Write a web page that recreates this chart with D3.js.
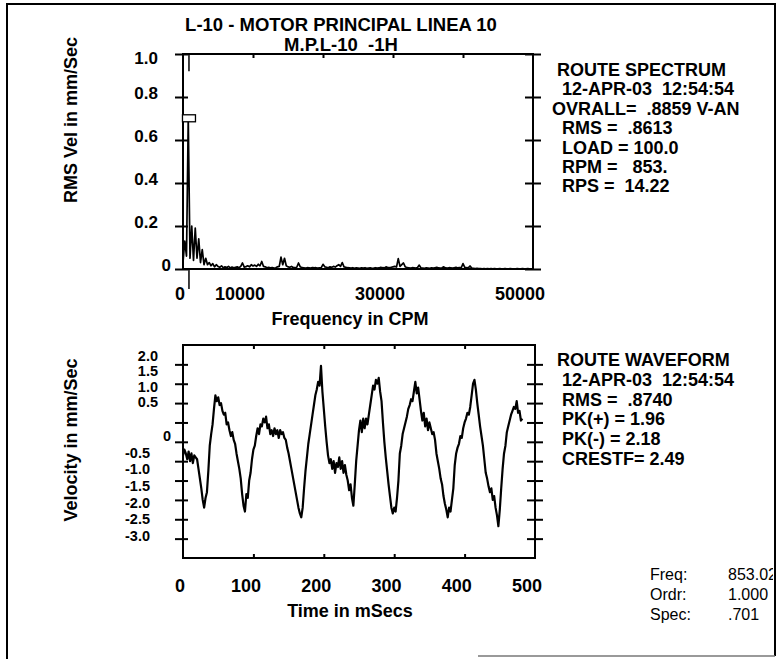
<!DOCTYPE html>
<html>
<head>
<meta charset="utf-8">
<script src="https://cdn.jsdelivr.net/npm/d3@7"></script>
<style>
  html, body { margin: 0; padding: 0; background: #fff; }
  svg { display: block; }
  text { font-family: "Liberation Sans", Arial, sans-serif; fill: #000; white-space: pre; }
  .b { font-weight: bold; }
</style>
</head>
<body>
<svg id="chart" width="779" height="659" xml:space="preserve"></svg>
<script>
// ---- header and report text ----
const titleLines = ["L-10 - MOTOR PRINCIPAL LINEA 10", "M.P.L-10  -1H"];
const spectrumInfo = [
  " ROUTE SPECTRUM",
  "  12-APR-03  12:54:54",
  "OVRALL=  .8859 V-AN",
  "  RMS =  .8613",
  "  LOAD = 100.0",
  "  RPM =   853.",
  "  RPS =  14.22"
];
const waveformInfo = [
  " ROUTE WAVEFORM",
  "  12-APR-03  12:54:54",
  "  RMS =  .8740",
  "  PK(+) = 1.96",
  "  PK(-) = 2.18",
  "  CRESTF= 2.49"
];
const cursorNames = ["Freq:", "Ordr:", "Spec:"];
const cursorValues = ["853.02", "1.000", ".701"];

// ---- spectrum (RMS velocity, mm/Sec) ----
const specStep = 250;            // CPM between spectral lines
const specAmp = [
  0.03, 0.13, 0.06, 0.701, 0.05, 0.20, 0.04, 0.19, 0.05, 0.14,
  0.03, 0.09, 0.02, 0.05, 0.02, 0.03, 0.015, 0.025, 0.01, 0.02,
  0.012, 0.008, 0.015, 0.006, 0.01, 0.007, 0.012, 0.005, 0.009, 0.006,
  0.008, 0.01, 0.006, 0.012, 0.028, 0.009, 0.011, 0.015, 0.01, 0.02,
  0.014, 0.018, 0.012, 0.022, 0.015, 0.035, 0.012, 0.01, 0.006, 0.008,
  0.005, 0.007, 0.004, 0.006, 0.01, 0.012, 0.055, 0.02, 0.05, 0.015,
  0.01, 0.008, 0.012, 0.007, 0.006, 0.008, 0.028, 0.01, 0.006, 0.005,
  0.004, 0.006, 0.005, 0.004, 0.007, 0.005, 0.006, 0.004, 0.005, 0.006,
  0.022, 0.01, 0.008, 0.006, 0.01, 0.008, 0.012, 0.009, 0.015, 0.02,
  0.012, 0.03, 0.01, 0.008, 0.006, 0.005, 0.004, 0.006, 0.003, 0.005,
  0.004, 0.003, 0.005, 0.004, 0.006, 0.003, 0.004, 0.005, 0.003, 0.004,
  0.006, 0.004, 0.005, 0.008, 0.006, 0.005, 0.01, 0.007, 0.006, 0.008,
  0.01, 0.012, 0.009, 0.048, 0.012, 0.02, 0.028, 0.01, 0.006, 0.005,
  0.004, 0.006, 0.005, 0.004, 0.007, 0.018, 0.005, 0.004, 0.003, 0.005,
  0.004, 0.003, 0.005, 0.004, 0.006, 0.008, 0.005, 0.004, 0.006, 0.01,
  0.005, 0.004, 0.006, 0.005, 0.004, 0.006, 0.008, 0.005, 0.007, 0.006,
  0.025, 0.008, 0.006, 0.005, 0.014, 0.004, 0.003, 0.002, 0.003, 0.002,
  0.002, 0.001, 0.002, 0.001, 0.002, 0.001, 0.002, 0.001, 0.002, 0.001,
  0.001, 0.002, 0.001, 0.001, 0.002, 0.001, 0.001, 0.002, 0.001, 0.001,
  0.001, 0.002, 0.001, 0.001, 0.002, 0.001, 0.001, 0.002, 0.001, 0.001,
  0.001
];
const specYTicks = [0, 0.2, 0.4, 0.6, 0.8, 1.0];
const specYLabels = ["0", "0.2", "0.4", "0.6", "0.8", "1.0"];
const specXTicks = [10000, 20000, 30000, 40000];
const specXLabels = [0, 10000, 30000, 50000];
const cursorCPM = 853.02;
const cursorAmp = 0.701;

// ---- waveform (velocity, mm/Sec) ----
const waveStep = 2;              // ms between samples
const waveVel = [
  -0.35, -0.2, -0.3, -0.45, -0.25, -0.5, -0.3, -0.55, -0.35, -0.4,
  -0.45, -0.7, -0.95, -1.2, -1.5, -1.7, -1.45, -1.3, -0.75, -0.1,
  0.2, 0.45, 0.85, 1.2, 1.05, 1.15, 0.95, 1.0, 0.8, 0.7,
  0.75, 0.45, 0.5, 0.3, 0.15, 0.25, 0.05, -0.05, -0.3, -0.5,
  -0.7, -0.95, -1.35, -1.65, -1.8, -1.35, -1.45, -1.0, -0.8, -0.45,
  -0.2, -0.1, 0.15, 0.35, 0.2, 0.45, 0.4, 0.6, 0.5, 0.65,
  0.35, 0.45, 0.2, 0.3, 0.15, 0.35, 0.2, 0.3, 0.1, 0.3,
  0.2, 0.25, 0.1, 0.05, -0.15, -0.3, -0.5, -0.7, -0.9, -1.1,
  -1.3, -1.5, -1.7, -1.85, -1.95, -1.7, -1.2, -0.75, -0.4, -0.05,
  0.2, 0.45, 0.7, 0.95, 1.2, 1.35, 1.55, 1.45, 1.96, 1.3,
  0.85, 0.4, 0.0, -0.35, -0.55, -0.45, -0.7, -0.5, -0.8, -0.55,
  -0.65, -0.4, -0.7, -0.5, -0.8, -0.6, -0.85, -1.0, -1.25, -1.1,
  -1.45, -1.65, -1.1, -0.5, -0.1, 0.3, 0.55, 0.25, 0.6, 0.35,
  0.6, 0.45, 0.7, 0.95, 1.2, 1.45, 1.35, 1.6, 1.5, 1.65,
  1.3, 1.05, 0.5, 0.0, -0.4, -0.75, -1.1, -1.4, -1.7, -1.85,
  -1.7, -1.8, -1.45, -1.0, -0.3, -0.1, 0.2, 0.35, 0.5, 0.65,
  0.85, 0.95, 1.1, 1.05, 1.3, 1.55, 1.25, 1.4, 1.1, 0.8,
  0.55, 0.75, 0.4, 0.6, 0.3, 0.5, 0.35, 0.2, 0.25, 0.05,
  -0.3, -0.5, -0.7, -0.95, -1.1, -1.4, -1.6, -1.75, -1.95, -1.7,
  -1.8, -1.5, -1.2, -0.6, -0.3, -0.15, -0.05, 0.15, 0.1, 0.35,
  0.5, 0.6, 0.75, 0.7, 0.9, 1.2, 1.5, 1.6, 1.35, 1.0,
  0.7, 0.4, 0.15, -0.1, -0.45, -0.8, -0.95, -1.15, -1.3, -1.2,
  -1.5, -1.4, -1.7, -1.9, -2.18, -1.75, -1.2, -0.7, -0.3, -0.1,
  0.25, 0.4, 0.55, 0.7, 0.8, 0.9, 0.85, 1.05, 0.75, 0.8,
  0.55, 0.6
];
const waveYTicks = [2.0, 1.5, 1.0, 0.5, 0, -0.5, -1.0, -1.5, -2.0, -2.5];
const waveYLabelVals = [2.0, 1.5, 1.0, 0.5, 0, -0.5, -1.0, -1.5, -2.0, -2.5, -3.0];
const waveYLabels = ["2.0", "1.5", "1.0", "0.5", "0", "-0.5", "-1.0", "-1.5", "-2.0", "-2.5", "-3.0"];
const waveXTicks = [100, 200, 300, 400];
const waveXLabels = [0, 100, 200, 300, 400, 500];

// ---------------------------------------------------------------
const svg = d3.select("#chart");

// page border (bottom edge only partly printed)
svg.append("path").attr("d", "M7,659V4H775V656")
  .attr("fill", "none").attr("stroke", "#000").attr("stroke-width", 2);
svg.append("path").attr("d", "M478,656H775")
  .attr("fill", "none").attr("stroke", "#777").attr("stroke-width", 1.5);

// heading
svg.append("g").selectAll("text").data(titleLines).join("text")
  .attr("class", "b").attr("x", 341).attr("y", (d, i) => 31 + i * 20)
  .attr("text-anchor", "middle").style("font-size", "18.5px").text(d => d);

function cleanAxis(sel) {
  sel.select(".domain").remove();
  sel.selectAll("line").attr("stroke", "#000").attr("stroke-width", 2);
}

// box with ticks crossing the side edges and short inward ticks on top/bottom
function drawFrame(g, x, y, yTicks, xTicksTop, xTicksBottom) {
  const [xl, xr] = x.range();
  const [yb, yt] = y.range();
  g.append("rect").attr("x", xl).attr("y", yt).attr("width", xr - xl).attr("height", yb - yt)
    .attr("fill", "none").attr("stroke", "#000").attr("stroke-width", 2);
  g.append("g").attr("transform", `translate(${xl},0)`)
    .call(d3.axisLeft(y).tickValues(yTicks).tickSize(8).tickFormat("")).call(cleanAxis);
  g.append("g").attr("transform", `translate(${xl},0)`)
    .call(d3.axisRight(y).tickValues(yTicks).tickSize(5).tickFormat("")).call(cleanAxis);
  g.append("g").attr("transform", `translate(${xr},0)`)
    .call(d3.axisLeft(y).tickValues(yTicks).tickSize(8).tickFormat("")).call(cleanAxis);
  g.append("g").attr("transform", `translate(${xr},0)`)
    .call(d3.axisRight(y).tickValues(yTicks).tickSize(8).tickFormat("")).call(cleanAxis);
  g.append("g").attr("transform", `translate(0,${yt})`)
    .call(d3.axisBottom(x).tickValues(xTicksTop).tickSize(4).tickFormat("")).call(cleanAxis);
  if (xTicksBottom.length) {
    g.append("g").attr("transform", `translate(0,${yb})`)
      .call(d3.axisTop(x).tickValues(xTicksBottom).tickSize(4).tickFormat("")).call(cleanAxis);
  }
}

function infoBlock(lines, x, y0, step) {
  svg.append("g").selectAll("text").data(lines).join("text")
    .attr("class", "b").attr("x", x).attr("y", (d, i) => y0 + i * step)
    .style("font-size", "18px").text(d => d);
}

function yTitle(label, cx, cy) {
  svg.append("text").attr("class", "b")
    .attr("transform", `translate(${cx},${cy}) rotate(-90)`)
    .attr("text-anchor", "middle").style("font-size", "18px").text(label);
}

// ===== spectrum =====
const sx = d3.scaleLinear().domain([0, 50000]).range([183, 533]);
const sy = d3.scaleLinear().domain([0, 1]).range([269, 54]);
const spec = svg.append("g");

spec.append("path")
  .datum(specAmp)
  .attr("fill", "none").attr("stroke", "#000").attr("stroke-width", 1.7)
  .attr("stroke-linejoin", "round")
  .attr("d", d3.line().x((d, i) => sx(i * specStep)).y(d => sy(d)));

drawFrame(spec, sx, sy, specYTicks, specXTicks, []);

// cursor at 1x running speed
spec.append("line")
  .attr("x1", sx(cursorCPM)).attr("x2", sx(cursorCPM))
  .attr("y1", sy(1)).attr("y2", sy(0.92))
  .attr("stroke", "#000").attr("stroke-width", 1.5);
spec.append("line")
  .attr("x1", sx(cursorCPM)).attr("x2", sx(cursorCPM))
  .attr("y1", sy(0)).attr("y2", sy(0) + 20)
  .attr("stroke", "#000").attr("stroke-width", 1.5);
spec.append("rect")
  .attr("x", sx(cursorCPM) - 6.5).attr("y", sy(cursorAmp) - 3.5)
  .attr("width", 13).attr("height", 7)
  .attr("fill", "#fff").attr("stroke", "#000").attr("stroke-width", 1.3);

// spectrum labels
const specLabelY = d3.scaleLinear().domain([0, 0.8, 1.0]).range([265, 93, 58]);
spec.append("g").selectAll("text").data(specYTicks).join("text")
  .attr("class", "b").attr("text-anchor", "end")
  .attr("x", d => d === 0 ? 171 : 158).attr("y", d => specLabelY(d))
  .attr("dy", "0.35em").style("font-size", "17px")
  .text((d, i) => specYLabels[i]);

const specLabelX = d3.scaleLinear().domain([0, 10000, 50000]).range([180, 240, 520]);
spec.append("g").selectAll("text").data(specXLabels).join("text")
  .attr("class", "b").attr("text-anchor", "middle")
  .attr("x", d => specLabelX(d)).attr("y", 300)
  .style("font-size", "18px").text(d => d);

spec.append("text").attr("class", "b").attr("text-anchor", "middle")
  .attr("x", 350).attr("y", 325).style("font-size", "18px").text("Frequency in CPM");
yTitle("RMS Vel in mm/Sec", 77, 120);
infoBlock(spectrumInfo, 552, 76, 19.4);

// ===== waveform =====
const wx = d3.scaleLinear().domain([0, 500]).range([183, 535]);
const wy = d3.scaleLinear().domain([-3, 2.5]).range([558, 345]);
const wave = svg.append("g");

wave.append("path")
  .datum(waveVel)
  .attr("fill", "none").attr("stroke", "#000").attr("stroke-width", 2.2)
  .attr("stroke-linejoin", "round")
  .attr("d", d3.line().x((d, i) => wx(i * waveStep)).y(d => wy(d)));

drawFrame(wave, wx, wy, waveYTicks, waveXTicks, waveXTicks);

// tick labels are printed on their own compressed spacing
const waveLabelY = d3.scaleLinear().domain([-3, 0, 0.5, 2.0]).range([536, 436, 402, 356]);
wave.append("g").selectAll("text").data(waveYLabelVals).join("text")
  .attr("class", "b").attr("text-anchor", "end")
  .attr("x", d => d === 0 ? 171 : (d < 0 ? 150 : 158)).attr("y", d => waveLabelY(d))
  .attr("dy", "0.35em").style("font-size", "14.5px")
  .text((d, i) => waveYLabels[i]);

const waveLabelX = d3.scaleLinear().domain([0, 100, 500]).range([180, 246, 527]);
wave.append("g").selectAll("text").data(waveXLabels).join("text")
  .attr("class", "b").attr("text-anchor", "middle")
  .attr("x", d => waveLabelX(d)).attr("y", 592)
  .style("font-size", "18px").text(d => d);

wave.append("text").attr("class", "b").attr("text-anchor", "middle")
  .attr("x", 350).attr("y", 617).style("font-size", "18px").text("Time in mSecs");
yTitle("Velocity in mm/Sec", 77, 440);
infoBlock(waveformInfo, 552, 366, 19.8);

// ===== cursor readout =====
svg.append("clipPath").attr("id", "pageClip")
  .append("rect").attr("x", 7).attr("y", 4).attr("width", 766).attr("height", 652);
const readout = svg.append("g").attr("clip-path", "url(#pageClip)");
readout.selectAll("text.name").data(cursorNames).join("text")
  .attr("class", "name").attr("x", 650).attr("y", (d, i) => 580 + i * 20)
  .style("font-size", "16px").text(d => d);
readout.selectAll("text.val").data(cursorValues).join("text")
  .attr("class", "val").attr("x", 728).attr("y", (d, i) => 580 + i * 20)
  .style("font-size", "16px").text(d => d);
</script>
</body>
</html>
